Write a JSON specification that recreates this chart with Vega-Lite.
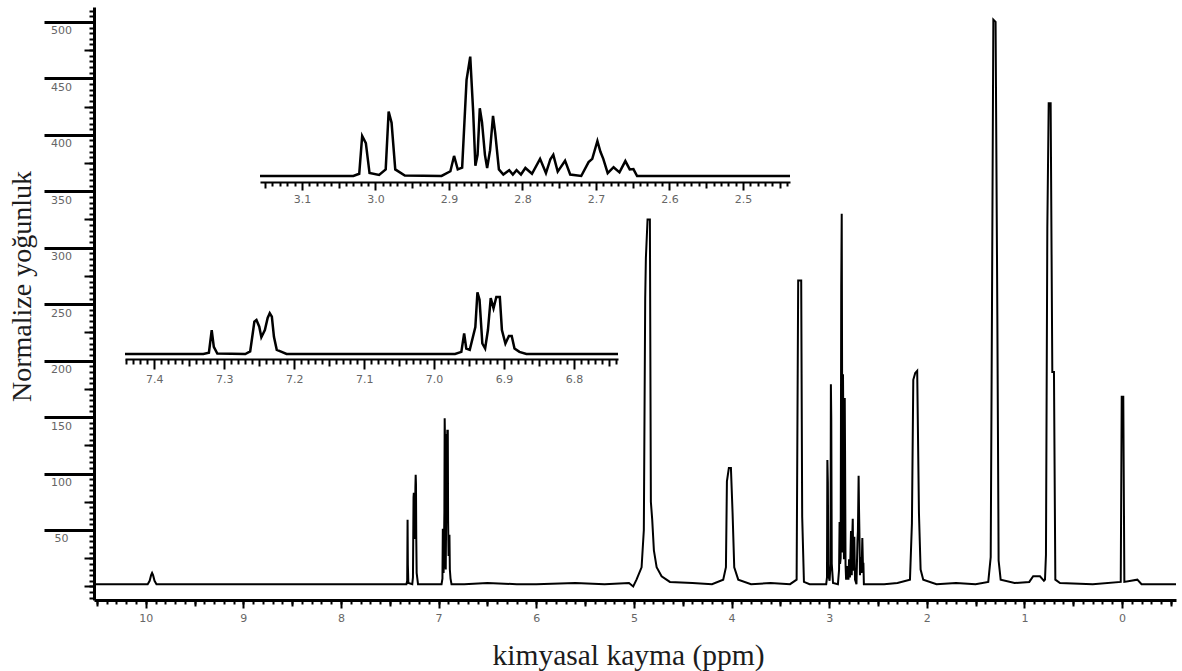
{
  "$schema": "https://vega.github.io/schema/vega-lite/v6.json",
  "width": 1082,
  "height": 593,
  "autosize": "none",
  "padding": {"left": 94, "top": 7, "right": 6, "bottom": 71},
  "background": "white",
  "config": {"view": {"stroke": null}, "axis": {"grid": false, "labelOverlap": false, "labelFlush": false, "domainColor": "black", "tickColor": "black", "tickWidth": 2, "labelFont": "DejaVu Sans", "labelFontSize": 11, "labelColor": "#666", "labelBaseline": "top"}},
  "data": {"values": [
    {"ppm": 10.53, "v": 2}, {"ppm": 10.2, "v": 2}, {"ppm": 9.98, "v": 2}, {"ppm": 9.96, "v": 5}, {"ppm": 9.945, "v": 10}, {"ppm": 9.935, "v": 12}, {"ppm": 9.925, "v": 10}, {"ppm": 9.91, "v": 5}, {"ppm": 9.89, "v": 2},
    {"ppm": 9.6, "v": 2}, {"ppm": 9.0, "v": 2}, {"ppm": 8.5, "v": 2}, {"ppm": 8.0, "v": 2}, {"ppm": 7.6, "v": 2}, {"ppm": 7.442, "v": 2}, {"ppm": 7.33, "v": 2},
    {"ppm": 7.322, "v": 5}, {"ppm": 7.318, "v": 59}, {"ppm": 7.315, "v": 19}, {"ppm": 7.31, "v": 3}, {"ppm": 7.27, "v": 2}, {"ppm": 7.263, "v": 8},
    {"ppm": 7.259, "v": 55}, {"ppm": 7.257, "v": 79}, {"ppm": 7.254, "v": 83}, {"ppm": 7.25, "v": 67}, {"ppm": 7.247, "v": 42}, {"ppm": 7.242, "v": 59},
    {"ppm": 7.238, "v": 88}, {"ppm": 7.235, "v": 99}, {"ppm": 7.232, "v": 91}, {"ppm": 7.229, "v": 43}, {"ppm": 7.225, "v": 12}, {"ppm": 7.218, "v": 7}, {"ppm": 7.211, "v": 2},
    {"ppm": 7.1, "v": 2}, {"ppm": 7.0, "v": 2}, {"ppm": 6.97, "v": 2}, {"ppm": 6.961, "v": 7}, {"ppm": 6.957, "v": 51}, {"ppm": 6.954, "v": 15}, {"ppm": 6.949, "v": 12},
    {"ppm": 6.941, "v": 66}, {"ppm": 6.938, "v": 149}, {"ppm": 6.935, "v": 131}, {"ppm": 6.931, "v": 27}, {"ppm": 6.927, "v": 15}, {"ppm": 6.923, "v": 59},
    {"ppm": 6.919, "v": 135}, {"ppm": 6.915, "v": 111}, {"ppm": 6.911, "v": 138}, {"ppm": 6.906, "v": 138}, {"ppm": 6.903, "v": 59}, {"ppm": 6.898, "v": 27},
    {"ppm": 6.893, "v": 45}, {"ppm": 6.889, "v": 45}, {"ppm": 6.885, "v": 15}, {"ppm": 6.878, "v": 7}, {"ppm": 6.868, "v": 2}, {"ppm": 6.737, "v": 2},
    {"ppm": 6.5, "v": 3}, {"ppm": 6.2, "v": 2}, {"ppm": 6.0, "v": 2}, {"ppm": 5.6, "v": 3}, {"ppm": 5.3, "v": 2}, {"ppm": 5.05, "v": 3}, {"ppm": 5.007, "v": 0},
    {"ppm": 4.973, "v": 6}, {"ppm": 4.921, "v": 17}, {"ppm": 4.898, "v": 50}, {"ppm": 4.884, "v": 255}, {"ppm": 4.877, "v": 291}, {"ppm": 4.86, "v": 325},
    {"ppm": 4.836, "v": 325}, {"ppm": 4.826, "v": 75}, {"ppm": 4.812, "v": 59}, {"ppm": 4.795, "v": 32}, {"ppm": 4.767, "v": 17}, {"ppm": 4.716, "v": 9}, {"ppm": 4.631, "v": 4},
    {"ppm": 4.4, "v": 3}, {"ppm": 4.2, "v": 2}, {"ppm": 4.085, "v": 6}, {"ppm": 4.057, "v": 17}, {"ppm": 4.047, "v": 93}, {"ppm": 4.027, "v": 105}, {"ppm": 4.006, "v": 105},
    {"ppm": 3.989, "v": 65}, {"ppm": 3.972, "v": 17}, {"ppm": 3.931, "v": 6}, {"ppm": 3.8, "v": 2}, {"ppm": 3.6, "v": 3}, {"ppm": 3.4, "v": 2},
    {"ppm": 3.333, "v": 6}, {"ppm": 3.317, "v": 271}, {"ppm": 3.286, "v": 271}, {"ppm": 3.276, "v": 62}, {"ppm": 3.258, "v": 4}, {"ppm": 3.2, "v": 2}, {"ppm": 3.157, "v": 2},
    {"ppm": 3.03, "v": 2}, {"ppm": 3.022, "v": 8}, {"ppm": 3.018, "v": 112}, {"ppm": 3.013, "v": 92}, {"ppm": 3.008, "v": 10}, {"ppm": 2.995, "v": 5},
    {"ppm": 2.986, "v": 20}, {"ppm": 2.982, "v": 179}, {"ppm": 2.978, "v": 148}, {"ppm": 2.973, "v": 20}, {"ppm": 2.96, "v": 3}, {"ppm": 2.91, "v": 2},
    {"ppm": 2.898, "v": 15}, {"ppm": 2.893, "v": 57}, {"ppm": 2.888, "v": 20}, {"ppm": 2.882, "v": 25}, {"ppm": 2.876, "v": 266}, {"ppm": 2.871, "v": 330},
    {"ppm": 2.867, "v": 178}, {"ppm": 2.864, "v": 30}, {"ppm": 2.861, "v": 60}, {"ppm": 2.858, "v": 188}, {"ppm": 2.855, "v": 150}, {"ppm": 2.851, "v": 60},
    {"ppm": 2.848, "v": 24}, {"ppm": 2.844, "v": 73}, {"ppm": 2.84, "v": 167}, {"ppm": 2.837, "v": 120}, {"ppm": 2.832, "v": 20}, {"ppm": 2.826, "v": 6},
    {"ppm": 2.818, "v": 18}, {"ppm": 2.813, "v": 6}, {"ppm": 2.808, "v": 18}, {"ppm": 2.802, "v": 6}, {"ppm": 2.796, "v": 24}, {"ppm": 2.787, "v": 8},
    {"ppm": 2.776, "v": 49}, {"ppm": 2.768, "v": 10}, {"ppm": 2.762, "v": 48}, {"ppm": 2.758, "v": 60}, {"ppm": 2.752, "v": 14}, {"ppm": 2.742, "v": 44},
    {"ppm": 2.735, "v": 6}, {"ppm": 2.72, "v": 2}, {"ppm": 2.71, "v": 40}, {"ppm": 2.705, "v": 49}, {"ppm": 2.698, "v": 98}, {"ppm": 2.694, "v": 69},
    {"ppm": 2.69, "v": 49}, {"ppm": 2.684, "v": 10}, {"ppm": 2.676, "v": 26}, {"ppm": 2.668, "v": 12}, {"ppm": 2.66, "v": 43}, {"ppm": 2.654, "v": 20},
    {"ppm": 2.649, "v": 21}, {"ppm": 2.644, "v": 2}, {"ppm": 2.436, "v": 2},
    {"ppm": 2.3, "v": 3}, {"ppm": 2.172, "v": 6}, {"ppm": 2.152, "v": 56}, {"ppm": 2.138, "v": 183}, {"ppm": 2.118, "v": 189}, {"ppm": 2.098, "v": 191},
    {"ppm": 2.08, "v": 65}, {"ppm": 2.063, "v": 15}, {"ppm": 2.036, "v": 6}, {"ppm": 1.9, "v": 2}, {"ppm": 1.7, "v": 3}, {"ppm": 1.5, "v": 2},
    {"ppm": 1.37, "v": 4}, {"ppm": 1.345, "v": 26}, {"ppm": 1.332, "v": 245}, {"ppm": 1.318, "v": 502}, {"ppm": 1.295, "v": 500}, {"ppm": 1.277, "v": 240},
    {"ppm": 1.264, "v": 23}, {"ppm": 1.243, "v": 6}, {"ppm": 1.1, "v": 3}, {"ppm": 0.95, "v": 4}, {"ppm": 0.91, "v": 9}, {"ppm": 0.84, "v": 9}, {"ppm": 0.8, "v": 5},
    {"ppm": 0.789, "v": 6}, {"ppm": 0.779, "v": 28}, {"ppm": 0.765, "v": 317}, {"ppm": 0.751, "v": 428}, {"ppm": 0.731, "v": 428}, {"ppm": 0.714, "v": 190},
    {"ppm": 0.697, "v": 190}, {"ppm": 0.683, "v": 6}, {"ppm": 0.635, "v": 3}, {"ppm": 0.3, "v": 2},
    {"ppm": 0.013, "v": 4}, {"ppm": 0.003, "v": 168}, {"ppm": -0.013, "v": 168}, {"ppm": -0.024, "v": 4}, {"ppm": -0.157, "v": 6}, {"ppm": -0.2, "v": 2}, {"ppm": -0.553, "v": 2}
  ]},
  "resolve": {"scale": {"x": "independent", "y": "independent"}, "axis": {"x": "independent", "y": "independent"}},
  "layer": [
    {
      "mark": {"type": "line", "color": "black", "strokeWidth": 2},
      "encoding": {
        "x": {"field": "ppm", "type": "quantitative",
          "scale": {"domain": [-0.553, 10.53], "reverse": true, "nice": false, "zero": false},
          "axis": {"orient": "bottom", "title": null, "domainWidth": 3, "tickSize": 4, "labels": false,
            "values": [-0.5,-0.4,-0.3,-0.2,-0.1,0,0.1,0.2,0.3,0.4,0.5,0.6,0.7,0.8,0.9,1,1.1,1.2,1.3,1.4,1.5,1.6,1.7,1.8,1.9,2,2.1,2.2,2.3,2.4,2.5,2.6,2.7,2.8,2.9,3,3.1,3.2,3.3,3.4,3.5,3.6,3.7,3.8,3.9,4,4.1,4.2,4.3,4.4,4.5,4.6,4.7,4.8,4.9,5,5.1,5.2,5.3,5.4,5.5,5.6,5.7,5.8,5.9,6,6.1,6.2,6.3,6.4,6.5,6.6,6.7,6.8,6.9,7,7.1,7.2,7.3,7.4,7.5,7.6,7.7,7.8,7.9,8,8.1,8.2,8.3,8.4,8.5,8.6,8.7,8.8,8.9,9,9.1,9.2,9.3,9.4,9.5,9.6,9.7,9.8,9.9,10,10.1,10.2,10.3,10.4,10.5]}},
        "y": {"field": "v", "type": "quantitative",
          "scale": {"domain": [-12, 513.2], "nice": false, "zero": false},
          "axis": {"orient": "left", "title": null, "domainWidth": 3, "tickSize": 5, "labels": false,
            "values": [-10,-5,0,5,10,15,20,25,30,35,40,45,50,55,60,65,70,75,80,85,90,95,100,105,110,115,120,125,130,135,140,145,150,155,160,165,170,175,180,185,190,195,200,205,210,215,220,225,230,235,240,245,250,255,260,265,270,275,280,285,290,295,300,305,310,315,320,325,330,335,340,345,350,355,360,365,370,375,380,385,390,395,400,405,410,415,420,425,430,435,440,445,450,455,460,465,470,475,480,485,490,495,500,505,510]}}
      }
    },
    {
      "mark": {"type": "line", "opacity": 0},
      "encoding": {
        "x": {"field": "ppm", "type": "quantitative",
          "scale": {"domain": [-0.553, 10.53], "reverse": true, "nice": false, "zero": false},
          "axis": {"orient": "bottom", "title": null, "domain": false, "tickSize": 6, "labels": false,
            "values": [-0.5,0.5,1.5,2.5,3.5,4.5,5.5,6.5,7.5,8.5,9.5,10.5]}},
        "y": {"field": "v", "type": "quantitative",
          "scale": {"domain": [-12, 513.2], "nice": false, "zero": false},
          "axis": {"orient": "left", "title": null, "domain": false, "tickSize": 10, "labels": false,
            "values": [0,25,75,125,175,225,275,325,375,425,475]}}
      }
    },
    {
      "mark": {"type": "line", "opacity": 0},
      "encoding": {
        "x": {"field": "ppm", "type": "quantitative",
          "scale": {"domain": [-0.553, 10.53], "reverse": true, "nice": false, "zero": false},
          "axis": {"orient": "bottom", "title": "kimyasal kayma (ppm)",
            "titleFont": "Liberation Serif", "titleFontSize": 29.5, "titleFontWeight": "normal", "titleColor": "#1c1c1c",
            "titleX": 534, "titleY": 64, "titleBaseline": "alphabetic", "titleAlign": "center", "titleAnchor": null,
            "domain": false, "tickSize": 8, "labelPadding": 4, "format": "d",
            "values": [0,1,2,3,4,5,6,7,8,9,10]}},
        "y": {"field": "v", "type": "quantitative",
          "scale": {"domain": [-12, 513.2], "nice": false, "zero": false},
          "axis": {"orient": "left", "title": "Normalize yoğunluk",
            "titleFont": "Liberation Serif", "titleFontSize": 28, "titleFontWeight": "normal", "titleColor": "#1c1c1c",
            "titleX": -64, "titleY": 279, "titleBaseline": "alphabetic", "titleAlign": "center", "titleAnchor": null, "titleAngle": 270,
            "domain": false, "tickSize": 50, "tickColor": "black", "tickWidth": 3, "format": "d", "labelPadding": -17, "labelAlign": "center", "labelOffset": 3,
            "values": [50,100,150,200,250,300,350,400,450,500]}}
      }
    },
    {
      "transform": [{"filter": "datum.ppm >= 2.436 && datum.ppm <= 3.157"}],
      "mark": {"type": "line", "color": "black", "strokeWidth": 2.5},
      "encoding": {
        "x": {"field": "ppm", "type": "quantitative",
          "scale": {"domain": [2.436, 3.157], "range": [166, 696], "reverse": true, "nice": false, "zero": false},
          "axis": {"orient": "bottom", "offset": -418, "title": null, "domainWidth": 2, "tickSize": 4, "labels": false,
            "values": [2.44,2.46,2.47,2.48,2.49,2.51,2.52,2.53,2.54,2.56,2.57,2.58,2.59,2.61,2.62,2.63,2.64,2.66,2.67,2.68,2.69,2.71,2.72,2.73,2.74,2.76,2.77,2.78,2.79,2.81,2.82,2.83,2.84,2.86,2.87,2.88,2.89,2.91,2.92,2.93,2.94,2.96,2.97,2.98,2.99,3.01,3.02,3.03,3.04,3.06,3.07,3.08,3.09,3.11,3.12,3.13,3.14]}},
        "y": {"field": "v", "type": "quantitative",
          "scale": {"domain": [0, 400], "range": [169.7, 24.1], "nice": false, "zero": false},
          "axis": null}
      }
    },
    {
      "transform": [{"filter": "datum.ppm >= 2.436 && datum.ppm <= 3.157"}],
      "mark": {"type": "line", "opacity": 0},
      "encoding": {
        "x": {"field": "ppm", "type": "quantitative",
          "scale": {"domain": [2.436, 3.157], "range": [166, 696], "reverse": true, "nice": false, "zero": false},
          "axis": {"orient": "bottom", "offset": -418, "title": null, "domain": false, "tickSize": 6, "labels": false,
            "values": [2.45,2.55,2.65,2.75,2.85,2.95,3.05,3.15]}},
        "y": {"field": "v", "type": "quantitative",
          "scale": {"domain": [0, 400], "range": [169.7, 24.1], "nice": false, "zero": false},
          "axis": null}
      }
    },
    {
      "transform": [{"filter": "datum.ppm >= 2.436 && datum.ppm <= 3.157"}],
      "mark": {"type": "line", "opacity": 0},
      "encoding": {
        "x": {"field": "ppm", "type": "quantitative",
          "scale": {"domain": [2.436, 3.157], "range": [166, 696], "reverse": true, "nice": false, "zero": false},
          "axis": {"orient": "bottom", "offset": -418, "title": null, "domain": false, "tickSize": 8, "labelPadding": 3, "format": ".1f",
            "values": [2.5,2.6,2.7,2.8,2.9,3.0,3.1]}},
        "y": {"field": "v", "type": "quantitative",
          "scale": {"domain": [0, 400], "range": [169.7, 24.1], "nice": false, "zero": false},
          "axis": null}
      }
    },
    {
      "transform": [{"filter": "datum.ppm >= 6.737 && datum.ppm <= 7.442"}],
      "mark": {"type": "line", "color": "black", "strokeWidth": 2.5},
      "encoding": {
        "x": {"field": "ppm", "type": "quantitative",
          "scale": {"domain": [6.737, 7.442], "range": [31, 524], "reverse": true, "nice": false, "zero": false},
          "axis": {"orient": "bottom", "offset": -241, "title": null, "domainWidth": 2, "tickSize": 5, "labels": false,
            "values": [6.74,6.76,6.77,6.78,6.79,6.81,6.82,6.83,6.84,6.86,6.87,6.88,6.89,6.91,6.92,6.93,6.94,6.96,6.97,6.98,6.99,7.01,7.02,7.03,7.04,7.06,7.07,7.08,7.09,7.11,7.12,7.13,7.14,7.16,7.17,7.18,7.19,7.21,7.22,7.23,7.24,7.26,7.27,7.28,7.29,7.31,7.32,7.33,7.34,7.36,7.37,7.38,7.39,7.41,7.42,7.43,7.44]}},
        "y": {"field": "v", "type": "quantitative",
          "scale": {"domain": [0, 400], "range": [347.84, 179.84], "nice": false, "zero": false},
          "axis": null}
      }
    },
    {
      "transform": [{"filter": "datum.ppm >= 6.737 && datum.ppm <= 7.442"}],
      "mark": {"type": "line", "opacity": 0},
      "encoding": {
        "x": {"field": "ppm", "type": "quantitative",
          "scale": {"domain": [6.737, 7.442], "range": [31, 524], "reverse": true, "nice": false, "zero": false},
          "axis": {"orient": "bottom", "offset": -241, "title": null, "domain": false, "tickSize": 7, "labels": false,
            "values": [6.75,6.85,6.95,7.05,7.15,7.25,7.35]}},
        "y": {"field": "v", "type": "quantitative",
          "scale": {"domain": [0, 400], "range": [347.84, 179.84], "nice": false, "zero": false},
          "axis": null}
      }
    },
    {
      "transform": [{"filter": "datum.ppm >= 6.737 && datum.ppm <= 7.442"}],
      "mark": {"type": "line", "opacity": 0},
      "encoding": {
        "x": {"field": "ppm", "type": "quantitative",
          "scale": {"domain": [6.737, 7.442], "range": [31, 524], "reverse": true, "nice": false, "zero": false},
          "axis": {"orient": "bottom", "offset": -241, "title": null, "domain": false, "tickSize": 10, "labelPadding": 4, "format": ".1f",
            "values": [6.8,6.9,7.0,7.1,7.2,7.3,7.4]}},
        "y": {"field": "v", "type": "quantitative",
          "scale": {"domain": [0, 400], "range": [347.84, 179.84], "nice": false, "zero": false},
          "axis": null}
      }
    }
  ]
}
